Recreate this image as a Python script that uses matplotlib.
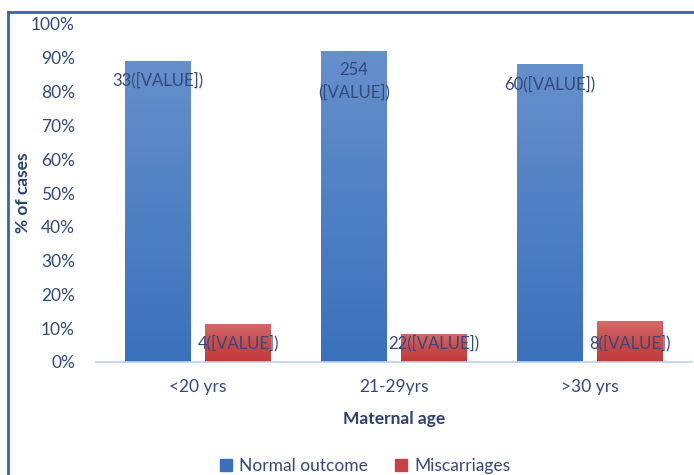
import numpy as np
import matplotlib
matplotlib.use('Agg')
import matplotlib.pyplot as plt
from matplotlib.lines import Line2D
from matplotlib.colors import LinearSegmentedColormap
from matplotlib.ticker import PercentFormatter

plt.rcParams['font.family'] = ['Lato', 'DejaVu Sans']

# data
categories = ['<20 yrs', '21-29yrs', '>30 yrs']
normal_pct = [89, 92, 88]
miscarriage_pct = [11, 8, 12]
normal_labels = ['33([VALUE])', '254\n([VALUE])', '60([VALUE])']
miscarriage_labels = ['4([VALUE])', '22([VALUE])', '8([VALUE])']

text_col = '#34497a'
blue_cmap = LinearSegmentedColormap.from_list('b', ['#3a71bc', '#4f80c4', '#6690cc'])
red_cmap = LinearSegmentedColormap.from_list('r', ['#c03b3b', '#c94b4b', '#d46a6a'])

fig = plt.figure(figsize=(6.94, 4.75), dpi=100)
ax = fig.add_axes([100 / 694, 113 / 475, 588 / 694, 338 / 475])

x = np.arange(len(categories))
w = 0.335
off = 0.205
b1 = ax.bar(x - off, normal_pct, w, color='none', label='Normal outcome')
b2 = ax.bar(x + off, miscarriage_pct, w, color='none', label='Miscarriages')

# vertical gradient fill for each bar
grad = np.linspace(0, 1, 256).reshape(-1, 1)
for bars, cmap in ((b1, blue_cmap), (b2, red_cmap)):
    for p in bars:
        x0, h = p.get_x(), p.get_height()
        ax.imshow(grad, cmap=cmap, aspect='auto', origin='lower',
                  extent=(x0, x0 + p.get_width(), 0, h), zorder=2)

for i in range(len(categories)):
    ax.text(x[i] - off, normal_pct[i] - 3.2, normal_labels[i], ha='center', va='top',
            fontsize=12, color=text_col, zorder=3, linespacing=1.45)
    ax.text(x[i] + off, 5.5, miscarriage_labels[i], ha='center', va='center',
            fontsize=12, color=text_col, zorder=3)

ax.set_xlim(-0.5, 2.5)
ax.set_ylim(0, 100)
ax.set_yticks(np.arange(0, 101, 10))
ax.yaxis.set_major_formatter(PercentFormatter(decimals=0))
ax.set_xticks(x)
ax.set_xticklabels(categories)
ax.tick_params(length=0, labelsize=12.5, colors=text_col)
ax.tick_params(axis='y', pad=18)
ax.tick_params(axis='x', pad=12)
for s in ('top', 'right', 'left'):
    ax.spines[s].set_visible(False)
ax.spines['bottom'].set_color('#bcd2ec')
ax.spines['bottom'].set_linewidth(1.2)
ax.spines['bottom'].set_bounds(-0.52, 2.52)
ax.spines['bottom'].set_zorder(4)

ax.set_xlabel('Maternal age', fontsize=12.5, fontweight='bold', color='#2c416f', labelpad=12)
ax.set_ylabel('% of cases', fontsize=12.5, fontweight='bold', color='#2c416f')
ax.yaxis.set_label_coords(-0.118, 0.5)

handles = [plt.Rectangle((0, 0), 1, 1, color='#3a70bb'),
           plt.Rectangle((0, 0), 1, 1, color='#c54545')]
fig.legend(handles, ['Normal outcome', 'Miscarriages'], loc='center',
           bbox_to_anchor=(365 / 694, 1 - 466 / 475), ncol=2, frameon=False,
           fontsize=12.5, handlelength=0.7, handleheight=0.7, columnspacing=1.6,
           handletextpad=0.4, labelcolor=text_col)

# blue frame on top and left
fig.add_artist(Line2D([8 / 694, 1], [1 - 12 / 475] * 2, color='#3c62ad', lw=2, transform=fig.transFigure))
fig.add_artist(Line2D([8 / 694] * 2, [0, 1 - 12 / 475], color='#3c62ad', lw=2, transform=fig.transFigure))

fig.savefig('out.png', dpi=100)
